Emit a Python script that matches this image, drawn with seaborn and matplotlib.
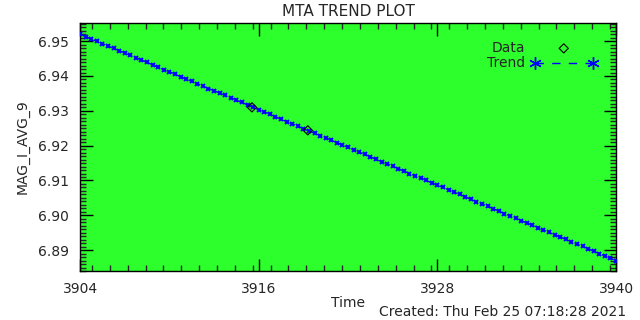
import numpy as np
import pandas as pd
import matplotlib
matplotlib.use("Agg")
import matplotlib.pyplot as plt
import seaborn as sns
from matplotlib.ticker import MultipleLocator

# data points
data_time = [3915.55, 3919.3]
data_val = [6.9310, 6.9244]

# trend points
trend_time = [3904.000, 3904.375, 3904.750, 3905.125, 3905.500, 3905.875, 3906.250, 3906.625,
              3907.000, 3907.375, 3907.750, 3908.125, 3908.500, 3908.875, 3909.250, 3909.625,
              3910.000, 3910.375, 3910.750, 3911.125, 3911.500, 3911.875, 3912.250, 3912.625,
              3913.000, 3913.375, 3913.750, 3914.125, 3914.500, 3914.875, 3915.250, 3915.625,
              3916.000, 3916.375, 3916.750, 3917.125, 3917.500, 3917.875, 3918.250, 3918.625,
              3919.000, 3919.375, 3919.750, 3920.125, 3920.500, 3920.875, 3921.250, 3921.625,
              3922.000, 3922.375, 3922.750, 3923.125, 3923.500, 3923.875, 3924.250, 3924.625,
              3925.000, 3925.375, 3925.750, 3926.125, 3926.500, 3926.875, 3927.250, 3927.625,
              3928.000, 3928.375, 3928.750, 3929.125, 3929.500, 3929.875, 3930.250, 3930.625,
              3931.000, 3931.375, 3931.750, 3932.125, 3932.500, 3932.875, 3933.250, 3933.625,
              3934.000, 3934.375, 3934.750, 3935.125, 3935.500, 3935.875, 3936.250, 3936.625,
              3937.000, 3937.375, 3937.750, 3938.125, 3938.500, 3938.875, 3939.250, 3939.625,
              3940.000]
trend_val = [6.9520, 6.9513, 6.9506, 6.9500, 6.9493, 6.9486, 6.9479, 6.9473,
             6.9466, 6.9459, 6.9452, 6.9446, 6.9439, 6.9432, 6.9425, 6.9418,
             6.9412, 6.9405, 6.9398, 6.9391, 6.9385, 6.9378, 6.9371, 6.9364,
             6.9358, 6.9351, 6.9344, 6.9337, 6.9330, 6.9324, 6.9317, 6.9310,
             6.9303, 6.9297, 6.9290, 6.9283, 6.9276, 6.9269, 6.9263, 6.9256,
             6.9249, 6.9242, 6.9236, 6.9229, 6.9222, 6.9215, 6.9209, 6.9202,
             6.9195, 6.9188, 6.9181, 6.9175, 6.9168, 6.9161, 6.9154, 6.9148,
             6.9141, 6.9134, 6.9127, 6.9120, 6.9114, 6.9107, 6.9100, 6.9093,
             6.9087, 6.9080, 6.9073, 6.9066, 6.9060, 6.9053, 6.9046, 6.9039,
             6.9033, 6.9026, 6.9019, 6.9012, 6.9005, 6.8999, 6.8992, 6.8985,
             6.8978, 6.8972, 6.8965, 6.8958, 6.8951, 6.8944, 6.8938, 6.8931,
             6.8924, 6.8917, 6.8911, 6.8904, 6.8897, 6.8890, 6.8884, 6.8877,
             6.8870]

x_ticks = [3904, 3916, 3928, 3940]
y_ticks = [6.89, 6.90, 6.91, 6.92, 6.93, 6.94, 6.95]

df_data = pd.DataFrame({"Time": data_time, "val": data_val})
df_trend = pd.DataFrame({"Time": trend_time, "val": trend_val})

sns.set_style("ticks")
plt.rcParams["font.family"] = ["DejaVu Sans"]

fig = plt.figure(figsize=(6.4, 3.2), dpi=100)
ax = fig.add_axes([0.125, 0.153, 0.8375, 0.775])
ax.set_facecolor("#2cff2c")

sns.lineplot(data=df_trend, x="Time", y="val", ax=ax, color="blue", linestyle="--",
             linewidth=1, marker="x", markersize=3.5, markeredgewidth=1.4,
             markeredgecolor="blue", label="Trend", zorder=3)
sns.scatterplot(data=df_data, x="Time", y="val", ax=ax, marker="D", s=22,
                facecolor="none", edgecolor="black", linewidth=0.8, label="Data", zorder=4)

ax.set_xlim(3904, 3940)
ax.set_ylim(6.884, 6.9552)
ax.set_xticks(x_ticks)
ax.set_yticks(y_ticks)
ax.set_xticklabels([str(t) for t in x_ticks])
ax.set_yticklabels([f"{t:.2f}" for t in y_ticks])
ax.xaxis.set_minor_locator(MultipleLocator(1.2))
ax.yaxis.set_minor_locator(MultipleLocator(0.001))
ax.tick_params(which="major", direction="in", length=9, width=1, top=True, right=True,
               labelsize=10, pad=8, color="black")
ax.tick_params(which="minor", direction="in", length=4.5, width=1, top=True, right=True)
for s in ax.spines.values():
    s.set_linewidth(1)
    s.set_color("black")

ax.set_xlabel("Time", fontsize=10, labelpad=0)
ax.set_ylabel("MAG_I_AVG_9", fontsize=10, labelpad=6)
ax.set_title("MTA TREND PLOT", fontsize=11, pad=5)

h, l = ax.get_legend_handles_labels()
leg = ax.legend(h[::-1], l[::-1], loc="upper right", bbox_to_anchor=(0.988, 0.978),
                frameon=False, markerfirst=False, numpoints=2, scatterpoints=1,
                handlelength=4.8, handletextpad=0.4, labelspacing=0.1, fontsize=10)
# bigger asterisks and longer dashes on the legend's trend handle
leg.legend_handles[1].set_marker((6, 2, 0))
leg.legend_handles[1].set_markersize(9)
leg.legend_handles[1].set_markeredgewidth(1)
leg.legend_handles[1].set_dashes([6, 6])

fig.text(0.978, 0.003, "Created: Thu Feb 25 07:18:28 2021", ha="right", va="bottom", fontsize=10)

fig.savefig("out.png", dpi=100)
